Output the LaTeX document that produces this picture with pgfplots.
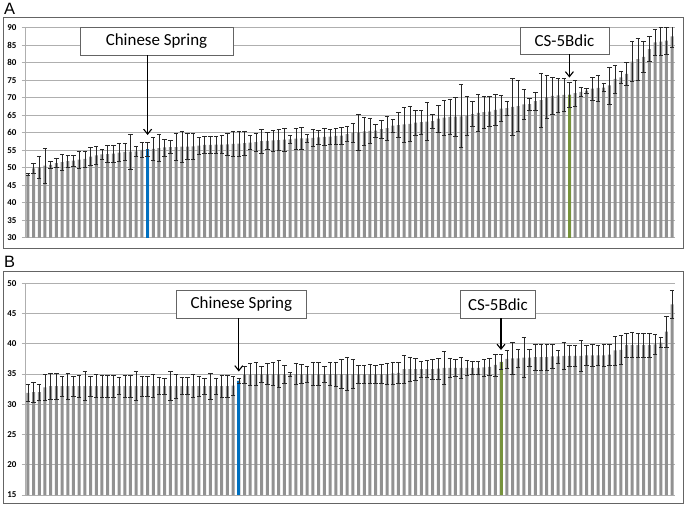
\documentclass[border=0pt]{standalone}
\usepackage{pgfplots}
\pgfplotsset{compat=1.18}
\usepackage{pgfplotstable}
\usetikzlibrary{arrows.meta}
\usepackage{fontspec}
\setmainfont{Carlito}
\newfontfamily\arialf{Liberation Sans}
\definecolor{barc}{RGB}{145,145,145}
\definecolor{gridc}{RGB}{175,175,175}
\definecolor{frame}{RGB}{100,100,100}
\definecolor{csblue}{RGB}{0,112,192}
\definecolor{csgreen}{RGB}{119,147,60}
\definecolor{errc}{RGB}{40,40,40}

\pgfplotstableread{
x y e
0 48.0 0.3
1 49.8 1.5
2 50.2 3.1
3 50.6 5.0
4 50.8 0.9
5 51.3 1.3
6 51.6 2.2
7 51.9 1.7
8 52.0 1.6
9 52.3 2.4
10 52.5 2.3
11 53.2 2.6
12 53.5 2.6
13 53.8 1.5
14 53.9 2.4
15 54.0 2.4
16 54.3 2.6
17 54.5 2.5
18 54.6 5.0
19 54.7 1.5
20 55.1 2.2
21 55.3 2.0
22 55.4 3.3
23 55.6 3.9
24 55.8 2.4
25 55.9 1.9
26 55.9 3.8
27 56.0 4.5
28 56.0 3.7
29 56.1 3.7
30 56.3 2.4
31 56.5 2.4
32 56.5 2.5
33 56.6 2.5
34 56.6 2.6
35 56.7 3.2
36 56.8 3.5
37 56.9 3.5
38 57.0 3.5
39 57.2 2.0
40 57.3 2.5
41 57.6 3.5
42 57.7 2.4
43 57.8 3.0
44 57.9 3.0
45 58.0 3.4
46 58.1 1.2
47 58.3 3.1
48 58.4 3.1
49 58.4 1.1
50 58.5 2.5
51 58.7 2.1
52 58.8 2.4
53 58.9 2.2
54 59.1 2.3
55 59.2 2.4
56 59.6 2.1
57 60.0 2.7
58 60.1 5.1
59 60.4 4.0
60 60.5 3.6
61 60.6 1.8
62 61.0 2.6
63 61.3 3.5
64 62.0 1.9
65 62.2 3.6
66 62.4 5.0
67 62.5 5.0
68 62.9 3.6
69 63.0 3.4
70 63.2 5.5
71 63.3 2.0
72 64.0 3.8
73 64.3 5.0
74 64.5 5.0
75 64.6 5.5
76 64.7 9.0
77 64.9 5.6
78 65.3 3.6
79 65.7 5.4
80 65.9 4.6
81 66.0 4.3
82 66.5 4.4
83 66.9 3.7
84 67.0 1.9
85 67.4 8.1
86 67.6 7.3
87 68.1 4.3
88 68.2 1.7
89 69.0 2.5
90 69.3 7.8
91 70.2 6.2
92 70.5 5.2
93 70.7 4.8
94 70.8 4.8
95 70.9 3.5
96 71.3 3.7
97 71.7 1.4
98 72.0 0.6
99 72.6 3.3
100 72.8 3.7
101 72.9 1.2
102 73.5 5.3
103 75.4 4.0
104 75.8 1.7
105 76.8 3.2
106 80.3 5.7
107 81.0 6.0
108 81.7 4.3
109 83.9 3.6
110 85.8 3.7
111 86.0 4.0
112 86.3 3.9
113 87.5 3.0
}\datA

\pgfplotstableread{
x y e
0 31.9 1.4
1 32.0 1.6
2 32.0 1.3
3 32.8 2.1
4 33.0 2.1
5 33.0 2.2
6 33.0 1.7
7 33.0 2.2
8 33.0 1.6
9 33.0 1.8
10 33.0 2.4
11 33.0 1.6
12 33.0 1.9
13 33.0 1.8
14 33.0 1.8
15 33.0 1.8
16 33.0 1.4
17 33.0 1.8
18 33.0 1.8
19 33.0 2.4
20 33.0 1.7
21 33.0 1.7
22 33.0 1.9
23 33.0 1.4
24 33.0 1.3
25 33.0 2.4
26 33.0 2.0
27 33.0 1.4
28 33.0 1.4
29 33.0 1.9
30 33.0 1.7
31 33.0 1.3
32 33.0 2.2
33 33.0 1.3
34 33.0 1.8
35 33.0 1.8
36 33.1 1.6
37 33.9 0.4
38 34.9 1.4
39 34.9 1.8
40 35.0 1.9
41 35.0 1.3
42 35.0 1.7
43 35.0 1.9
44 35.0 2.2
45 35.0 1.5
46 35.0 0.3
47 35.0 1.7
48 35.0 1.6
49 35.0 1.3
50 35.0 1.9
51 35.0 1.9
52 35.0 1.3
53 35.0 1.9
54 35.0 2.0
55 35.0 2.4
56 35.0 2.7
57 35.0 2.4
58 35.0 1.5
59 35.0 1.5
60 35.0 1.6
61 35.0 1.5
62 35.0 1.6
63 35.0 1.7
64 35.1 1.8
65 35.2 1.8
66 35.8 2.3
67 35.8 2.0
68 35.8 1.8
69 35.8 1.3
70 35.8 1.4
71 35.8 1.6
72 35.9 1.7
73 36.0 2.7
74 36.0 1.6
75 36.0 1.4
76 36.0 1.7
77 36.0 1.2
78 36.0 1.1
79 36.0 1.1
80 36.1 1.4
81 36.2 1.4
82 36.5 1.8
83 37.0 1.2
84 37.5 1.5
85 37.6 2.6
86 37.6 1.5
87 37.7 3.3
88 37.7 1.4
89 37.8 2.1
90 37.8 2.1
91 37.8 2.1
92 37.9 2.0
93 37.9 1.1
94 38.0 2.2
95 38.0 1.7
96 38.0 1.8
97 38.0 2.6
98 38.1 1.7
99 38.1 1.8
100 38.1 1.6
101 38.1 1.8
102 38.2 1.7
103 38.9 2.4
104 39.0 2.4
105 39.8 2.0
106 39.8 2.1
107 39.8 2.0
108 39.8 2.0
109 39.8 2.0
110 39.9 1.7
111 40.2 0.8
112 42.0 2.5
113 46.5 2.3
}\datB

\pgfplotsset{
  panel/.style={
    scale only axis, width=650bp,
    xmin=-0.5, xmax=113.5, xtick=\empty,
    axis lines*=left, axis line style={-, gridc, line width=0.8bp},
    ymajorgrids, grid style={gridc, line width=0.8bp},
    tick align=outside, major tick length=3.5bp, ytick style={gridc, line width=0.8bp},
    /pgf/number format/assume math mode=true,
    yticklabel style={font=\fontsize{9}{9}\selectfont\bfseries, xshift=-1.5bp},
    clip=true,
  },
  barplot/.style={ybar, bar width=3bp, bar shift=0pt, draw=none, fill=#1},
  errplot/.style={draw=none, mark=none,
    error bars/.cd, y dir=both, y explicit, error mark=-,
    error mark options={draw=errc, line width=0.6bp, mark size=2.2bp, rotate=90},
    error bar style={draw=errc, line width=0.55bp}},
}

\begin{document}
\begin{tikzpicture}
\useasboundingbox (0,0) rectangle (685bp,-507bp);
% frames
\draw[frame, line width=0.8bp] (3bp,-17bp) rectangle (683bp,-248bp);
\draw[frame, line width=0.8bp] (3bp,-271bp) rectangle (683bp,-503bp);
\node[anchor=base west, inner sep=0, font=\arialf\fontsize{16.5}{16.5}\selectfont] at (4bp,-14bp) {A};
\node[anchor=base west, inner sep=0, font=\arialf\fontsize{16.5}{16.5}\selectfont] at (4bp,-267bp) {B};

\begin{axis}[panel, at={(25bp,-237.7bp)}, anchor=south west, height=210bp,
  ymin=30, ymax=90, ytick={30,35,...,90}]
\addplot[barplot=barc] table[x=x,y=y] {\datA};
\addplot[barplot=csblue] coordinates {(21,55.3)};
\addplot[barplot=csgreen] coordinates {(95,70.9)};
\addplot[errplot] table[x=x,y=y,y error=e] {\datA};
\end{axis}

\begin{axis}[panel, at={(25bp,-495bp)}, anchor=south west, height=211.7bp,
  ymin=15, ymax=50, ytick={15,20,...,50}]
\addplot[barplot=barc] table[x=x,y=y] {\datB};
\addplot[barplot=csblue] coordinates {(37,33.9)};
\addplot[barplot=csgreen] coordinates {(83,37.0)};
\addplot[errplot] table[x=x,y=y,y error=e] {\datB};
\end{axis}

% annotations panel A
\node[draw=frame, fill=white, line width=0.8bp, minimum width=153bp, minimum height=27.3bp, inner sep=0,
  font=\fontsize{17}{17}\selectfont] at (156.5bp,-41.4bp) {Chinese Spring};
\draw[black, line width=1.1bp, -{Straight Barb[length=5bp,width=8bp]}] (147.6bp,-55bp) -- (147.6bp,-135bp);
\node[draw=frame, fill=white, line width=0.8bp, minimum width=89bp, minimum height=26.6bp, inner sep=0,
  font=\fontsize{17}{17}\selectfont] at (564.5bp,-41bp) {CS-5Bdic};
\draw[black, line width=1.1bp, -{Straight Barb[length=5bp,width=8bp]}] (569.4bp,-54.3bp) -- (569.4bp,-77.5bp);
% annotations panel B
\node[draw=frame, fill=white, line width=0.8bp, minimum width=129.3bp, minimum height=28.3bp, inner sep=0,
  font=\fontsize{17}{17}\selectfont] at (241.4bp,-304.2bp) {Chinese Spring};
\draw[black, line width=1.1bp, -{Straight Barb[length=5bp,width=8bp]}] (238.8bp,-318.3bp) -- (238.8bp,-371.5bp);
\node[draw=frame, fill=white, line width=0.8bp, minimum width=75.7bp, minimum height=28.3bp, inner sep=0,
  font=\fontsize{17}{17}\selectfont] at (497.9bp,-304.2bp) {CS-5Bdic};
\draw[black, line width=1.1bp, -{Straight Barb[length=5bp,width=8bp]}] (501bp,-318.3bp) -- (501bp,-350bp);
\end{tikzpicture}
\end{document}
